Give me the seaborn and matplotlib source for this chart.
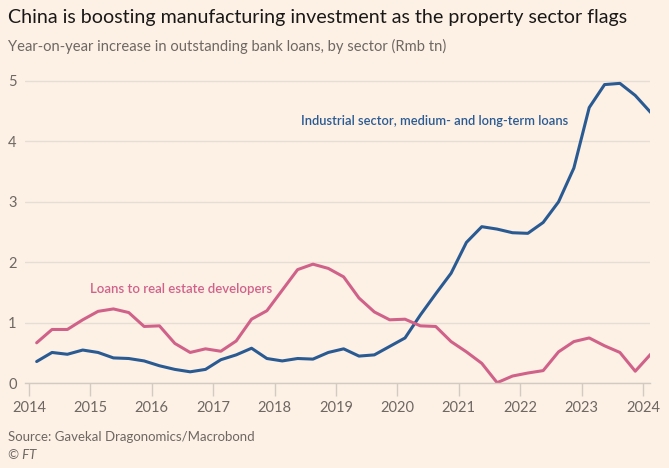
import numpy as np
import pandas as pd
import seaborn as sns
import matplotlib.pyplot as plt

# Quarterly observations, early 2014 to early 2024 (decimal years)
quarters = [2014.125 + 0.25 * i for i in range(41)]

# Industrial sector, medium- and long-term loans (Rmb tn, y/y increase)
industrial = [0.36, 0.51, 0.48, 0.55, 0.51, 0.42, 0.41, 0.37, 0.29, 0.23,
              0.19, 0.23, 0.39, 0.47, 0.58, 0.41, 0.37, 0.41, 0.40, 0.51,
              0.57, 0.45, 0.47, 0.61, 0.75, 1.13, 1.48, 1.82, 2.33, 2.59,
              2.55, 2.49, 2.48, 2.66, 3.00, 3.56, 4.56, 4.94, 4.96, 4.76,
              4.48]

# Loans to real estate developers (Rmb tn, y/y increase)
real_estate = [0.67, 0.89, 0.89, 1.05, 1.19, 1.23, 1.17, 0.94, 0.95, 0.66,
               0.51, 0.57, 0.53, 0.70, 1.06, 1.20, 1.54, 1.88, 1.97, 1.90,
               1.76, 1.41, 1.18, 1.05, 1.06, 0.95, 0.94, 0.69, 0.52, 0.33,
               0.01, 0.12, 0.17, 0.21, 0.52, 0.69, 0.75, 0.62, 0.51, 0.20,
               0.48]

years = list(range(2014, 2025))
y_ticks = [0, 1, 2, 3, 4, 5]

BG = '#fdf1e6'
BLUE = '#2a5a92'
PINK = '#d0628a'
GREY = '#6e6762'

df = pd.DataFrame({
    'date': quarters * 2,
    'value': industrial + real_estate,
    'series': ['industrial'] * len(industrial) + ['real_estate'] * len(real_estate),
})

sns.set_theme(style='white', rc={'axes.facecolor': BG, 'figure.facecolor': BG})
plt.rcParams['font.family'] = ['Lato', 'DejaVu Sans']

fig = plt.figure(figsize=(6.69, 4.68), dpi=100)
ax = fig.add_axes([25 / 669, 1 - 383.3 / 468, (650 - 25) / 669, (383.3 - 75) / 468])

sns.lineplot(data=df, x='date', y='value', hue='series',
             palette={'industrial': BLUE, 'real_estate': PINK},
             linewidth=2.2, legend=False, ax=ax)

ax.set_xlim(2013.935, 2024.115)
ax.set_ylim(0, (383.3 - 75) / 60.47)

# gridlines
ax.set_yticks(y_ticks)
ax.yaxis.grid(True, color='#e8ddd2', linewidth=1.0)
ax.set_axisbelow(True)
for s in ['top', 'right', 'left']:
    ax.spines[s].set_visible(False)
ax.spines['bottom'].set_color('#d4cac0')
ax.spines['bottom'].set_linewidth(1.0)

ax.set_xticks(years)
ax.set_xticklabels([str(y) for y in years])
ax.tick_params(axis='x', length=9, width=1.0, color='#d4cac0', labelcolor=GREY,
               labelsize=10.5, pad=4, direction='out', bottom=True)
ax.tick_params(axis='y', length=0, labelcolor=GREY, labelsize=10.5, pad=6)
ax.set_xlabel('')
ax.set_ylabel('')

ax.text(2018.43, 4.34, 'Industrial sector, medium- and long-term loans',
        color=BLUE, fontsize=9.3, fontweight='semibold', va='center', ha='left')
ax.text(2014.99, 1.56, 'Loans to real estate developers',
        color=PINK, fontsize=9.5, fontweight='semibold', va='center', ha='left')

fig.text(8 / 669, 1 - 18 / 468, 'China is boosting manufacturing investment as the property sector flags',
         fontsize=14.1, color='#1a1817', va='center', ha='left')
fig.text(8 / 669, 1 - 46 / 468, 'Year-on-year increase in outstanding bank loans, by sector (Rmb tn)',
         fontsize=10.6, color=GREY, va='center', ha='left')
fig.text(8 / 669, 1 - 437 / 468, 'Source: Gavekal Dragonomics/Macrobond',
         fontsize=9.5, color=GREY, va='center', ha='left')
fig.text(8 / 669, 1 - 455 / 468, '© FT',
         fontsize=9.5, color=GREY, va='center', ha='left', style='italic')

fig.savefig('out.png', dpi=100, facecolor=BG)
